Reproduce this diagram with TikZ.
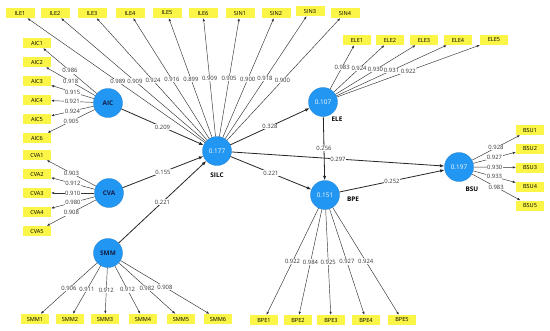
\documentclass[tikz,border=0pt]{standalone}
\usepackage{fontspec}
\setmainfont{Open Sans}
\usetikzlibrary{arrows.meta}
\definecolor{lvblue}{RGB}{33,150,243}
\definecolor{indyel}{RGB}{250,245,70}
\definecolor{lvtext}{RGB}{20,30,70}
\definecolor{ldgray}{RGB}{50,50,50}
\begin{document}
\begin{tikzpicture}[x=1pt,y=-1pt,
  lv/.style={circle,fill=lvblue,draw=lvblue!85!black,line width=0.3pt,minimum size=29pt,inner sep=0pt,font=\fontsize{6.4}{7}\selectfont},
  lvname/.style={font=\fontsize{6.4}{7}\selectfont\bfseries,inner sep=0pt},
  ind/.style={rectangle,fill=indyel,minimum width=28pt,minimum height=10pt,inner sep=0pt,font=\fontsize{5.6}{6}\selectfont},
  ld/.style={draw=ldgray,line width=0.45pt,-{Latex[length=3pt,width=2.4pt]}},
  st/.style={draw=black!85,line width=0.8pt,-{Latex[length=4.5pt,width=3.4pt]}},
  lbl/.style={fill=white,inner sep=0.5pt,font=\fontsize{5.9}{6}\selectfont,text=black!80}]
\useasboundingbox (0,0) rectangle (550,330);
\fill[white] (0,0) rectangle (550,330);

% latent variables
\node[lv,text=lvtext] (aic) at (108,103) {\textbf{AIC}};
\node[lv,text=lvtext] (cva) at (109,193) {\textbf{CVA}};
\node[lv,text=lvtext] (smm) at (108,253) {\textbf{SMM}};
\node[lv,text=white] (silc) at (217,151) {0.177};
\node[lv,text=white] (ele) at (323,102) {0.107};
\node[lv,text=white] (bpe) at (325,195) {0.151};
\node[lv,text=white] (bsu) at (459,167) {0.197};
\node[lvname] (silcname) at (217,175) {SILC};
\node[lvname] (elename) at (337,119) {ELE};
\node[lvname] (bpename) at (353,199) {BPE};
\node[lvname] (bsuname) at (472,189) {BSU};

% indicators
\foreach \n/\x in {1/20,2/55,3/92,4/130,5/167,6/203}
  \node[ind,minimum width=29pt] (ile\n) at (\x,13) {ILE\n};
\node[ind,minimum width=29pt] (sin1) at (240,13) {SIN1};
\node[ind,minimum width=29pt] (sin2) at (276,13) {SIN2};
\node[ind,minimum width=29pt] (sin3) at (310,11) {SIN3};
\node[ind,minimum width=29pt] (sin4) at (345,13) {SIN4};
\foreach \n/\y in {1/43,2/62,3/81,4/100,5/119,6/138}
  \node[ind] (aic\n) at (37,\y) {AIC\n};
\foreach \n/\y in {1/155,2/174,3/193,4/212,5/231}
  \node[ind] (cva\n) at (37,\y) {CVA\n};
\foreach \n/\x in {1/35,2/70,3/105,4/143,5/181,6/218}
  \node[ind] (smm\n) at (\x,319) {SMM\n};
\foreach \n/\x in {1/264,2/298,3/331,4/366,5/402}
  \node[ind] (bpe\n) at (\x,320) {BPE\n};
\foreach \n/\x in {1/357,2/390,3/424,4/458,5/494}
  \node[ind] (ele\n) at (\x,40) {ELE\n};
\foreach \n/\y in {1/130,2/148.5,3/167.5,4/186.5,5/205.5}
  \node[ind] (bsu\n) at (530,\y) {BSU\n};

% outer loadings
\foreach \t/\v in {ile1/0.989,ile2/0.909,ile3/0.924,ile4/0.916,ile5/0.899,ile6/0.909,sin1/0.905,sin2/0.900,sin3/0.918,sin4/0.900}
  \draw[ld] (silc) -- (\t) node[lbl,pos=0.49] {\v};
\foreach \t/\v in {aic1/0.986,aic2/0.918,aic3/0.915,aic4/0.921,aic5/0.924,aic6/0.905}
  \draw[ld] (aic) -- (\t) node[lbl,midway] {\v};
\foreach \t/\v in {cva1/0.903,cva2/0.912,cva3/0.910,cva4/0.980,cva5/0.908}
  \draw[ld] (cva) -- (\t) node[lbl,midway] {\v};
\foreach \t/\v in {smm1/0.906,smm2/0.911,smm3/0.912,smm4/0.912,smm5/0.982,smm6/0.908}
  \draw[ld] (smm) -- (\t) node[lbl,midway] {\v};
\foreach \t/\v in {bpe1/0.922,bpe2/0.984,bpe3/0.925,bpe4/0.927,bpe5/0.924}
  \draw[ld] (bpe) -- (\t) node[lbl,midway] {\v};
\foreach \t/\v in {ele1/0.983,ele2/0.924,ele3/0.930,ele4/0.931,ele5/0.922}
  \draw[ld] (ele) -- (\t) node[lbl,midway] {\v};
\foreach \t/\v in {bsu1/0.928,bsu2/0.927,bsu3/0.930,bsu4/0.933,bsu5/0.983}
  \draw[ld] (bsu) -- (\t) node[lbl,midway] {\v};

% structural paths
\draw[st] (aic) -- (silc) node[lbl,midway] {0.209};
\draw[st] (cva) -- (silc) node[lbl,midway] {0.155};
\draw[st] (smm) -- (silc) node[lbl,midway] {0.221};
\draw[st] (silc) -- (ele) node[lbl,midway] {0.328};
\draw[st] (silc) -- (bpe) node[lbl,midway] {0.221};
\draw[st] (silc) -- (bsu) node[lbl,midway] {0.297};
\draw[st] (ele) -- (bpe) node[lbl,midway] {0.256};
\draw[st] (bpe) -- (bsu) node[lbl,midway] {0.252};
\end{tikzpicture}
\end{document}
